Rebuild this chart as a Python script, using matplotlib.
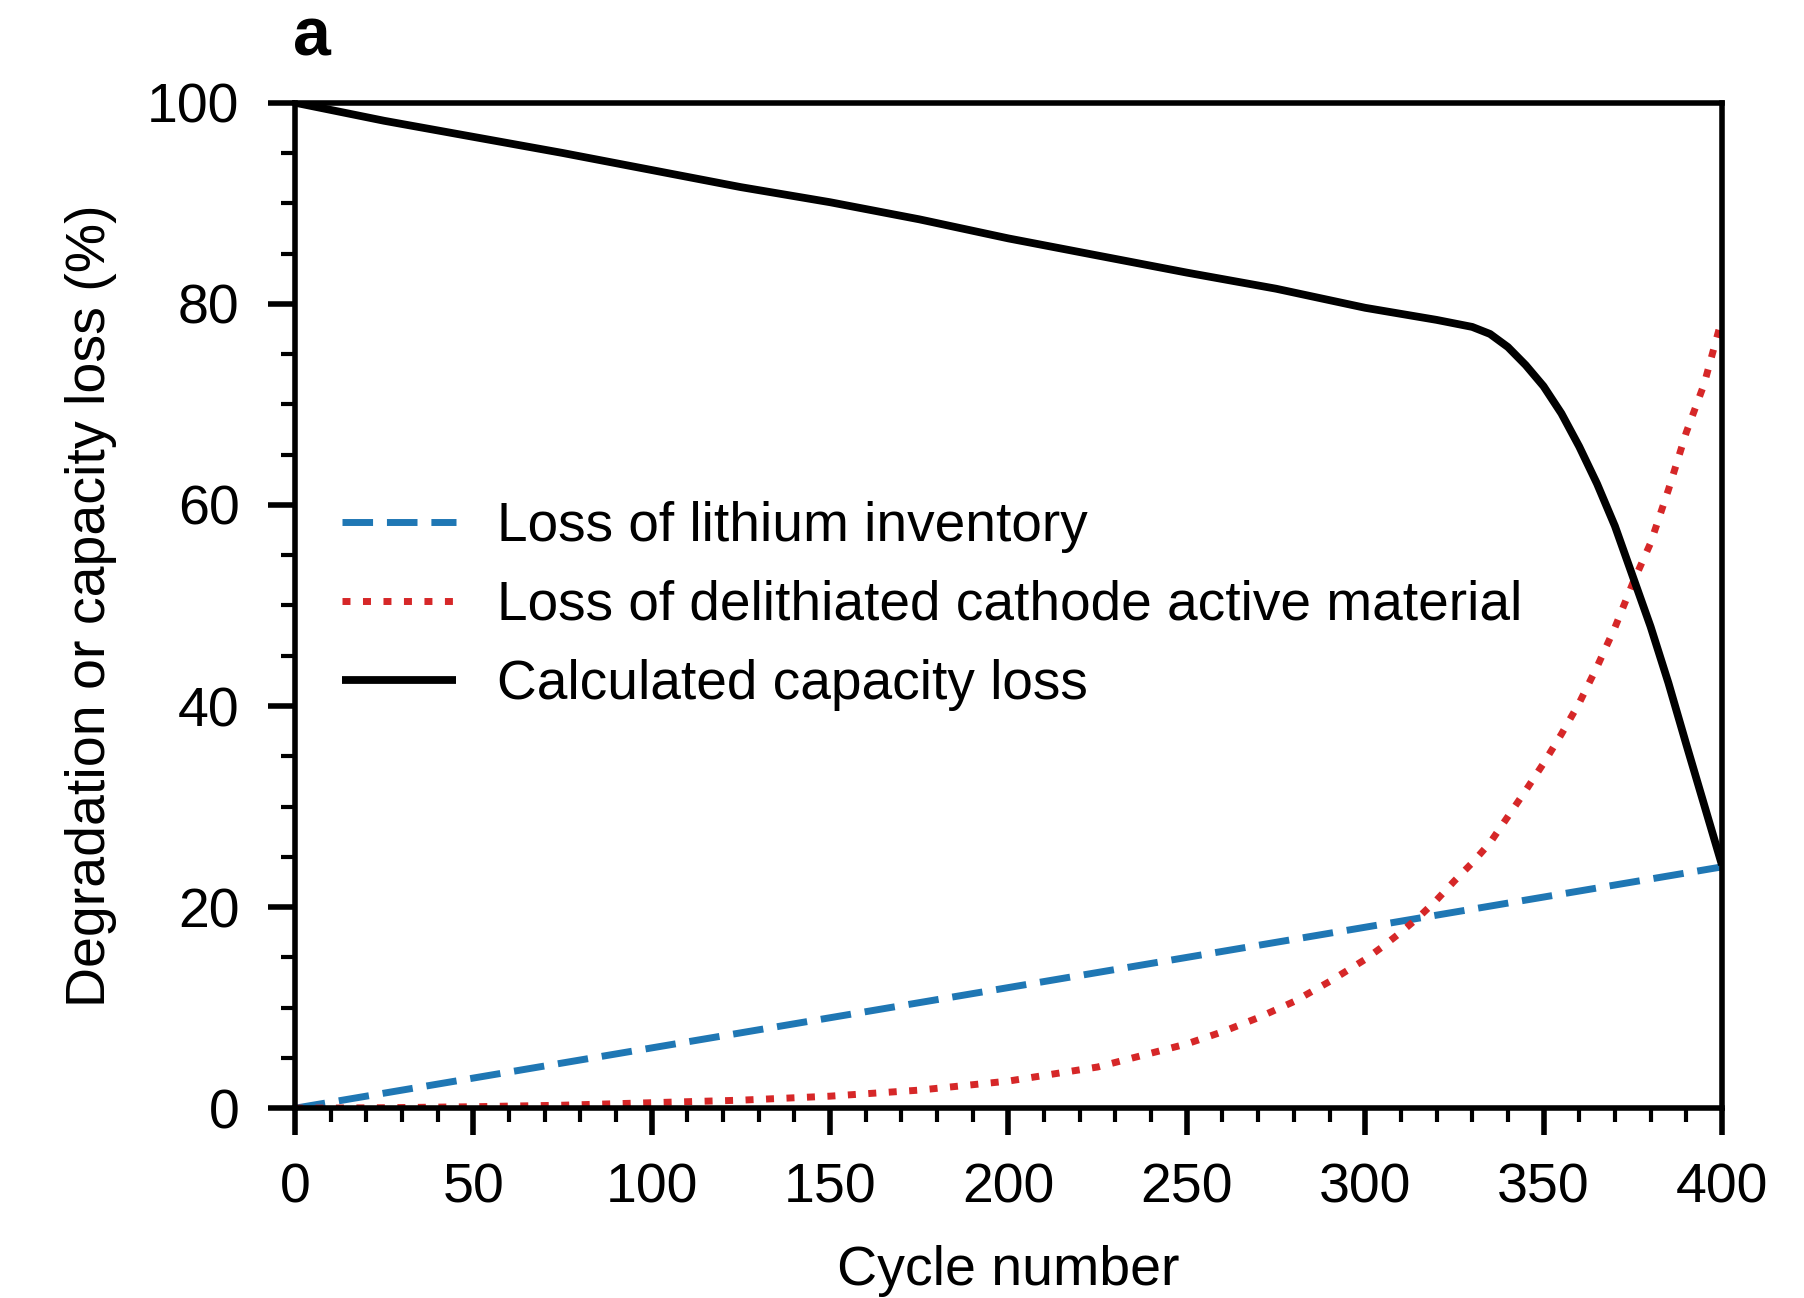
import matplotlib
matplotlib.use("Agg")
import matplotlib.pyplot as plt
from matplotlib.ticker import MultipleLocator

plt.rcParams["font.family"] = ["Liberation Sans", "DejaVu Sans"]

# Loss of lithium inventory (linear with cycle number)
lli_cycles = [0, 100, 200, 300, 400]
lli_values = [0.0, 6.0, 12.0, 18.0, 24.0]

# Loss of delithiated cathode active material
lam_cycles = [0, 25, 50, 75, 100, 125, 150, 175, 200, 225, 250, 260, 270, 280,
              290, 300, 305, 310, 315, 320, 325, 330, 335, 340, 345, 350, 355,
              360, 365, 370, 375, 380, 385, 390, 395, 400]
lam_values = [0.0, 0.05, 0.15, 0.3, 0.55, 0.8, 1.2, 1.8, 2.7, 4.1, 6.4, 7.6,
              9.0, 10.6, 12.6, 14.8, 16.1, 17.5, 19.0, 20.7, 22.6, 24.4, 26.4,
              29.0, 31.6, 34.3, 37.2, 40.3, 43.9, 47.8, 52.2, 56.2, 61.5, 67.2,
              72.0, 78.5]

# Calculated remaining capacity
cap_cycles = [0, 25, 50, 75, 100, 125, 150, 175, 200, 225, 250, 275, 300, 320,
              330, 335, 340, 345, 350, 355, 360, 365, 370, 375, 380, 385, 390,
              395, 400]
cap_values = [100.0, 98.2, 96.6, 95.0, 93.3, 91.6, 90.1, 88.4, 86.5, 84.8, 83.1,
              81.5, 79.6, 78.4, 77.7, 77.0, 75.7, 73.9, 71.8, 69.1, 65.8, 62.1,
              57.9, 52.9, 47.9, 42.3, 36.2, 30.2, 24.2]

labels = ["Loss of lithium inventory",
          "Loss of delithiated cathode active material",
          "Calculated capacity loss"]

FS = 40
LEGEND_FS = 39.6

fig = plt.figure(figsize=(18.04, 12.98), dpi=100)
ax = fig.add_axes([0.1635, 0.1462, 0.791, 0.7747])

ax.plot(lli_cycles, lli_values, color="#1f77b4", lw=5.0,
        dashes=(4.4, 2.0), dash_capstyle="butt", label=labels[0])
ax.plot(lam_cycles, lam_values, color="#d62728", lw=5.0,
        dashes=(1.15, 1.8), dash_capstyle="butt", label=labels[1])
ax.plot(cap_cycles, cap_values, color="black", lw=5.6,
        solid_capstyle="butt", label=labels[2])

ax.set_xlim(0, 400)
ax.set_ylim(0, 100)
ax.xaxis.set_major_locator(MultipleLocator(50))
ax.xaxis.set_minor_locator(MultipleLocator(10))
ax.yaxis.set_major_locator(MultipleLocator(20))
ax.yaxis.set_minor_locator(MultipleLocator(5))

for sp in ax.spines.values():
    sp.set_linewidth(4.0)

ax.tick_params(which="major", direction="out", length=19.5, width=4.0,
               labelsize=FS)
ax.tick_params(which="minor", direction="out", length=10, width=3.0)
ax.tick_params(axis="x", which="major", pad=19.5)
ax.tick_params(axis="y", which="major", pad=20.5)

ax.set_xlabel("Cycle number", fontsize=FS)
ax.set_ylabel("Degradation or capacity loss (%)", fontsize=FS)
ax.xaxis.set_label_coords(0.5, -0.136)
ax.yaxis.set_label_coords(-0.125, 0.5)

ax.legend(loc="upper left", bbox_to_anchor=(0.033, 0.604), frameon=False,
          fontsize=LEGEND_FS, handlelength=2.07, handletextpad=0.74,
          labelspacing=0.49, borderpad=0, borderaxespad=0)

fig.text(0.173, 0.957, "a", fontsize=49, fontweight="bold",
         ha="center", va="baseline")

fig.savefig("out.png", dpi=100, facecolor="white")
